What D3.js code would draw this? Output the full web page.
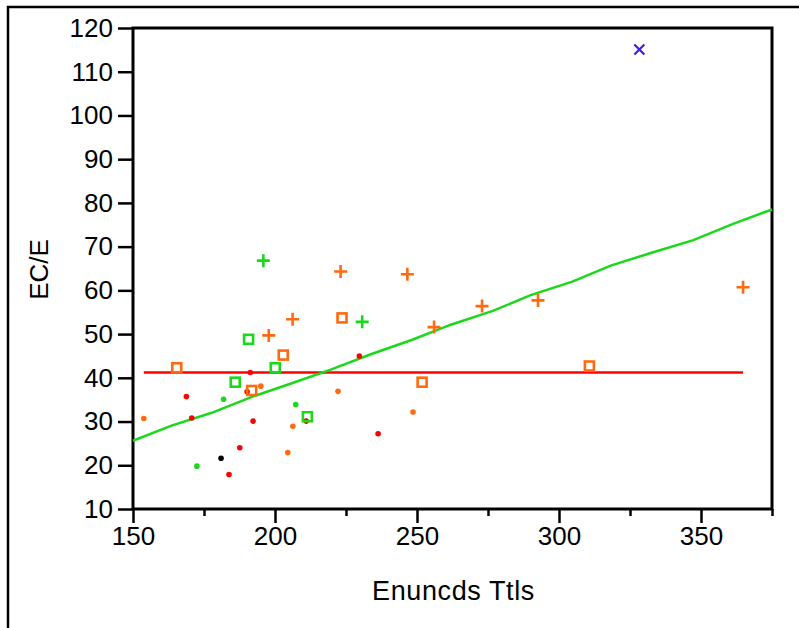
<!DOCTYPE html>
<html>
<head>
<meta charset="utf-8">
<script src="https://cdn.jsdelivr.net/npm/d3@7"></script>
<style>
  html, body { margin: 0; padding: 0; background: #fff; }
  svg { display: block; }
  text { font-family: "Liberation Sans", Arial, sans-serif; fill: #000; }
</style>
</head>
<body>
<svg id="chart" width="799" height="628"></svg>
<script>
// ---- data ----
const xTicks = [150, 200, 250, 300, 350];
const xMinorTicks = [175, 225, 275, 325, 375];
const yTicks = [10, 20, 30, 40, 50, 60, 70, 80, 90, 100, 110, 120];

const orangePlus = [[223.1, 64.3], [206.2, 53.4], [197.8, 49.7], [246.6, 63.7],
                    [272.9, 56.4], [256.0, 51.6], [292.6, 57.7], [364.8, 60.7]];
const greenPlus = [[195.9, 66.8], [230.7, 52.8]];
const orangeSquare = [[223.6, 53.7], [202.9, 45.2], [165.4, 42.3], [191.8, 37.1],
                      [251.8, 39.0], [310.7, 42.7]];
const greenSquare = [[190.7, 48.8], [200.1, 42.3], [186.0, 39.0], [211.4, 31.1]];
const redDot = [[229.7, 45.0], [191.3, 41.2], [190.2, 36.8], [168.8, 35.7], [170.7, 30.8],
                [192.3, 30.1], [211.0, 30.1], [187.6, 24.0], [183.8, 17.9], [236.3, 27.2]];
const orangeDot = [[195.0, 38.1], [222.2, 36.9], [153.8, 30.7], [206.3, 28.9],
                   [204.5, 22.9], [248.6, 32.2]];
const greenDot = [[181.9, 35.1], [207.3, 33.9], [172.5, 19.8]];
const blackDot = [[181.0, 21.6]];
const blueCross = [[328.3, 115.1]];

// fitted trend (polyline vertices)
const fitX = [150.0, 163.3, 177.7, 192.1, 205.9, 219.4, 234.0, 248.1, 261.9, 276.7,
              290.0, 304.7, 318.2, 332.3, 347.3, 361.3, 375.0];
const fitY = [25.6, 29.0, 32.0, 35.7, 38.75, 41.8, 45.45, 48.65, 52.15, 55.3,
              58.9, 62.0, 65.65, 68.55, 71.5, 75.2, 78.5];
// horizontal mean line, spanning the data's x range
const meanY = 41.2;

// ---- colours ----
const ORANGE = "#ff6a10";
const GREEN = "#1ad81a";
const RED = "#ff0000";
const BLACK = "#000000";
const BLUE = "#3a1cf0";

// ---- layout ----
const svg = d3.select("#chart");
const plot = { left: 133, top: 28, right: 772, bottom: 509 };

const x = d3.scaleLinear().domain([150, 375]).range([plot.left, plot.right]);
const y = d3.scaleLinear().domain([10, 120]).range([plot.bottom, plot.top]);

svg.append("rect").attr("width", 799).attr("height", 628).attr("fill", "#fff");

// outer frame (left and top edges)
svg.append("path")
  .attr("d", "M8,628 L8,7 L799,7")
  .attr("fill", "none").attr("stroke", "#000").attr("stroke-width", 2.5);

// axes
const yAxis = svg.append("g")
  .attr("transform", `translate(${plot.left},0)`)
  .call(d3.axisLeft(y).tickValues(yTicks).tickSize(15).tickPadding(5).tickSizeOuter(0));

const xAxis = svg.append("g")
  .attr("transform", `translate(0,${plot.bottom})`)
  .call(d3.axisBottom(x).tickValues(xTicks).tickSize(14).tickPadding(4).tickSizeOuter(0));

const xMinor = svg.append("g")
  .attr("transform", `translate(0,${plot.bottom})`)
  .call(d3.axisBottom(x).tickValues(xMinorTicks).tickSize(7).tickFormat("").tickSizeOuter(0));

[yAxis, xAxis, xMinor].forEach(g => {
  g.select(".domain").remove();
  g.selectAll(".tick line").attr("stroke", "#000").attr("stroke-width", 2.5);
  g.selectAll(".tick text")
    .style("font-family", '"Liberation Sans", Arial, sans-serif')
    .style("font-size", "26px").attr("fill", "#000");
});

// plot frame
svg.append("rect")
  .attr("x", plot.left).attr("y", plot.top)
  .attr("width", plot.right - plot.left).attr("height", plot.bottom - plot.top)
  .attr("fill", "none").attr("stroke", "#000").attr("stroke-width", 3);

// axis titles
svg.append("text")
  .attr("transform", `translate(48,${(plot.top + plot.bottom) / 2 + 1}) rotate(-90)`)
  .attr("text-anchor", "middle")
  .style("font-size", "26px")
  .text("EC/E");

svg.append("text")
  .attr("x", (plot.left + plot.right) / 2 + 1).attr("y", 600)
  .attr("text-anchor", "middle")
  .style("font-size", "27px")
  .style("letter-spacing", "0.6px")
  .text("Enuncds Ttls");

// reference lines
const allX = [orangePlus, greenPlus, orangeSquare, greenSquare, redDot, orangeDot,
              greenDot, blackDot, blueCross].flat().map(d => d[0]);

svg.append("line")
  .attr("x1", x(d3.min(allX))).attr("x2", x(d3.max(allX)))
  .attr("y1", y(meanY)).attr("y2", y(meanY))
  .attr("stroke", RED).attr("stroke-width", 2.5);

const fitLine = d3.line().x(d => x(d[0])).y(d => y(d[1]));
svg.append("path")
  .datum(fitX.map((v, i) => [v, fitY[i]]))
  .attr("d", fitLine)
  .attr("fill", "none").attr("stroke", GREEN).attr("stroke-width", 2.5);

// markers
const marks = svg.append("g");

function dots(data, color) {
  marks.selectAll(null).data(data).enter().append("circle")
    .attr("cx", d => x(d[0])).attr("cy", d => y(d[1]))
    .attr("r", 2.8).attr("fill", color);
}
function squares(data, color) {
  const s = 9;
  marks.selectAll(null).data(data).enter().append("rect")
    .attr("x", d => x(d[0]) - s / 2).attr("y", d => y(d[1]) - s / 2)
    .attr("width", s).attr("height", s)
    .attr("fill", "none").attr("stroke", color).attr("stroke-width", 2.6);
}
function pluses(data, color) {
  const h = 6.5;
  marks.selectAll(null).data(data).enter().append("path")
    .attr("d", d => {
      const cx = x(d[0]), cy = y(d[1]);
      return `M${cx - h},${cy}H${cx + h}M${cx},${cy - h}V${cy + h}`;
    })
    .attr("stroke", color).attr("stroke-width", 2.6);
}
function crosses(data, color) {
  const h = 5;
  marks.selectAll(null).data(data).enter().append("path")
    .attr("d", d => {
      const cx = x(d[0]), cy = y(d[1]);
      return `M${cx - h},${cy - h}L${cx + h},${cy + h}M${cx - h},${cy + h}L${cx + h},${cy - h}`;
    })
    .attr("stroke", color).attr("stroke-width", 2.2);
}

dots(redDot, RED);
dots(orangeDot, ORANGE);
dots(greenDot, GREEN);
dots(blackDot, BLACK);
squares(orangeSquare, ORANGE);
squares(greenSquare, GREEN);
pluses(orangePlus, ORANGE);
pluses(greenPlus, GREEN);
crosses(blueCross, BLUE);
</script>
</body>
</html>
